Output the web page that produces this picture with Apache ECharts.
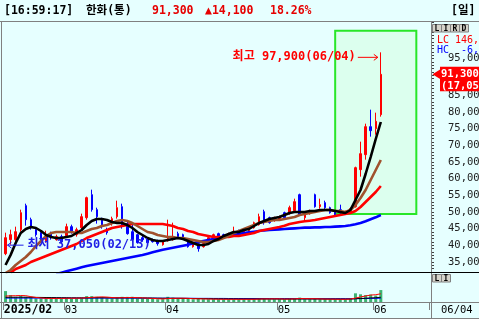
<!DOCTYPE html>
<html>
<head>
<meta charset="utf-8">
<script src="https://cdn.jsdelivr.net/npm/echarts@6.0.0/dist/echarts.min.js"></script>
<style>
html,body{margin:0;padding:0;background:#e6ffff;overflow:hidden;}
#chart{width:479px;height:319px;}
</style>
</head>
<body>
<div id="chart"></div>
<script>
const dates = ['02/13','02/14','02/17','02/18','02/19','02/20','02/21','02/24','02/25','02/26','02/27','02/28',
'03/04','03/05','03/06','03/07','03/10','03/11','03/12','03/13','03/14','03/17','03/18','03/19','03/20','03/21','03/24','03/25','03/26','03/27','03/28','03/31',
'04/01','04/02','04/03','04/04','04/07','04/08','04/09','04/10','04/11','04/14','04/15','04/16','04/17','04/18','04/21','04/22','04/23','04/24','04/25','04/28','04/29','04/30',
'05/02','05/07','05/08','05/09','05/12','05/13','05/14','05/15','05/16','05/19','05/20','05/21','05/22','05/23','05/26','05/27','05/28','05/29','05/30',
'06/02','06/04'];
const opens = [37500,41700,41700,44700,51900,47700,44700,43800,41100,43500,41700,42600,42900,45600,43200,45300,48300,55200,50700,47700,44700,46500,48600,51600,46500,44100,43200,42300,42000,41700,41400,40200,41400,41700,43500,43200,41100,39600,40500,39600,41400,42300,43500,43200,42600,43200,44400,43800,44400,45300,46200,50100,48300,47400,48000,49800,49500,50400,55200,48300,49500,55200,51600,52800,51300,50100,50700,49500,49800,51600,62700,67200,75600,75000,79200];
const highs = [43800,44700,45600,50700,52500,48300,45300,44400,44400,44100,43200,43200,46500,46200,45300,49500,54600,56700,51300,48300,45300,48600,53400,52500,47100,46200,43500,42900,42300,42000,41700,41400,47700,46800,44100,43500,41400,41100,40800,40800,42600,43500,43800,43500,43800,45600,44700,45000,45600,47100,49500,50700,48600,48600,48900,50100,51900,54000,55500,49800,50700,55500,54000,53400,51600,50400,52200,50400,51300,63600,71100,76500,80700,79800,97900];
const lows = [37050,40200,41000,44100,45900,44700,42600,41100,40800,41700,41400,40500,42300,43500,42600,44700,47700,50100,46500,45000,43200,45900,48000,45000,43200,41100,40500,41100,40200,40800,39900,39900,41100,41400,42300,41700,39300,39300,38100,39300,41100,42000,42300,42000,42300,42900,42900,43500,44100,45000,45900,46200,46500,47100,47700,48000,49200,50100,48900,47400,49200,51300,51000,50700,49500,48900,49500,49200,49500,51300,60600,65700,72600,73200,78600];
const closes = [42300,43200,44100,49800,47700,45300,43200,41700,43200,42300,42600,41100,45600,44100,44700,48600,54300,50700,48600,45600,43800,48000,51300,45900,43500,41700,40800,41700,40800,41100,40500,41100,42000,42300,42600,42300,39600,40800,39000,40500,42300,43200,42600,42300,43500,43800,43200,44700,45300,46800,48600,47400,46800,48300,48600,48300,51300,53100,49200,49200,50400,51600,52200,51300,49800,49200,49800,50100,51000,63300,67500,75600,74400,77200,91300];
const ma5 = [34100,37100,40700,43700,44900,45500,45200,44300,43100,42500,42200,42200,42500,42800,43700,44600,46100,47300,47900,47900,47600,47000,46700,46700,46100,45200,44000,43100,42200,41600,41300,41300,41600,41900,42200,41900,41300,40700,40100,40100,40400,41300,41900,42800,43400,44000,44000,44600,44900,45800,46700,47300,47900,48200,48500,49100,49700,50000,50000,50000,50300,50300,50600,50600,50600,50300,50000,49700,50600,53600,56600,61400,66500,71900,77000];
const ma10 = [31700,32600,34100,35300,36500,38000,39800,41300,42800,43700,44000,44000,44000,44000,43700,43700,44300,44900,45200,45800,46100,46700,47300,47600,47300,46700,45800,44900,44000,43700,43100,42800,42500,42500,42200,42200,41900,41600,41300,41000,41000,41300,41600,42200,42800,43700,44300,44900,45500,46100,46700,47000,47300,47600,47600,47900,48200,48500,49100,49400,49700,50000,50300,50600,50600,50300,50300,50000,50600,52100,54200,56600,59600,62600,65600];
const ma20 = [null,31800,32900,33500,34100,35000,35600,36200,36800,37400,38000,38600,39200,39800,40400,41300,42200,42800,43400,44000,44600,45200,45500,45800,46100,46400,46400,46400,46400,46400,46400,46400,46100,45800,45200,44900,44300,44000,43400,43100,42800,42500,42500,42500,42500,42800,42800,43100,43400,43700,44300,44600,44900,45200,45500,45900,46400,46700,47000,47200,47400,47600,47900,48200,48500,48800,49100,49400,49700,50300,51500,53000,54500,56000,57800];
const ma60 = [null,null,null,null,null,null,null,null,null,null,31400,31800,32200,32600,33000,33400,33800,34100,34400,34700,35000,35300,35600,35900,36200,36500,36800,37100,37500,37900,38300,38700,39000,39300,39600,39900,40200,40600,41000,41300,41600,41900,42200,42500,42800,43100,43400,43700,43900,44100,44300,44500,44600,44700,44800,44900,45000,45100,45200,45300,45300,45400,45400,45500,45500,45600,45700,45800,46000,46300,46700,47200,47800,48400,49100];
const volumes = [15600,9900,7400,8500,7400,6300,5200,5100,5000,5200,5000,5100,6300,5000,5100,6300,8500,8400,7400,6200,5200,5000,6300,7400,7300,7400,5000,5100,4900,5000,3900,4000,7400,6200,5000,5100,5000,3900,5100,4000,3900,4000,3900,3900,4000,3900,4000,3900,3900,4000,5000,5100,3900,4000,3900,4000,5100,5000,6300,3900,4000,5100,3900,4000,3900,3900,4000,3900,5100,12400,11000,9900,10600,9200,17058];
const volMaShort = [8500,8800,9000,9200,9000,7600,6500,5700,5200,5100,5100,5100,5300,5300,5400,5600,6100,6600,7000,7300,7000,6400,6000,6100,6300,6500,6200,5900,5500,5100,4700,4400,4900,5200,5300,5400,5200,4700,4600,4400,4300,4100,4000,3900,3900,3900,3900,3900,3900,3900,4200,4400,4400,4500,4500,4100,4300,4500,4900,4800,4700,4700,4400,4200,4100,4000,3900,3900,4200,5600,7200,8600,9900,10400,11700];
const volMaMid = [6700,6700,6800,6800,6800,6700,6600,6500,6400,6300,6200,6100,6000,5900,5900,5800,5900,6000,6100,6100,6000,5900,5900,6000,6000,6000,5900,5800,5700,5600,5500,5400,5400,5300,5300,5200,5100,5000,4900,4800,4700,4600,4500,4500,4400,4400,4300,4300,4300,4300,4300,4300,4300,4300,4200,4200,4200,4200,4300,4300,4300,4300,4300,4200,4200,4200,4200,4200,4200,4600,5000,5400,5800,6100,6800];
const volMaLong = [5600,5600,5600,5600,5600,5600,5600,5600,5600,5600,5600,5600,5600,5600,5600,5600,5600,5600,5600,5600,5600,5600,5600,5600,5600,5600,5500,5500,5500,5500,5400,5400,5400,5400,5300,5300,5300,5300,5200,5200,5200,5100,5100,5100,5000,5000,5000,5000,4900,4900,4900,4900,4800,4800,4800,4800,4800,4800,4800,4700,4700,4700,4700,4700,4700,4700,4700,4700,4700,4800,4900,5000,5100,5200,5400];
const xTickLabels = ['2025/02','03','04','05','06'];
const yLabelMin = 35000, yLabelMax = 95000, yLabelStep = 5000;
const header = {time:'[16:59:17]', name:'한화(통)', price:'91,300', change:'▲14,100', rate:'18.26%', period:'[일]'};
const boxRange = {fromIdx:65, toIdx:81, low:49400, high:104400};
const sideTexts = {lc:'LC 146,', hc:'HC  -6,', sub:'(17,05', lastDate:'06/04'};

const MONO = '"DejaVu Sans Mono","Noto Sans CJK KR",monospace';
const padCount = 9;
const cats = dates.concat(Array.from({length:padCount}, (_, k) => '+' + (k + 1)));
const monthIdx = [];
dates.forEach((d, i) => { if (i === 0 || d.slice(0, 2) !== dates[i - 1].slice(0, 2)) monthIdx.push(i); });
const fmt = v => String(v).replace(/\B(?=(\d{3})+(?!\d))/g, ',');

const chart = echarts.init(document.getElementById('chart'), null, {width:479, height:319});
const option = {
  animation: false,
  backgroundColor: '#e6ffff',
  grid: [
    {left:3, top:22, width:426, height:250, containLabel:false, outerBoundsMode:'none'},
    {left:3, top:274, width:426, height:28, containLabel:false, outerBoundsMode:'none'}
  ],
  xAxis: [
    {type:'category', gridIndex:0, data:cats, boundaryGap:true, axisLine:{show:false}, axisTick:{show:false}, axisLabel:{show:false}, splitLine:{show:false}},
    {type:'category', gridIndex:1, data:cats, boundaryGap:true, axisLine:{show:false},
     axisTick:{show:true, length:8, interval:(i) => monthIdx.indexOf(i) >= 0, lineStyle:{color:'#808080', width:1}},
     axisLabel:{show:false}, splitLine:{show:false}}
  ],
  yAxis: [
    {type:'value', gridIndex:0, position:'right', offset:2, min:32000, max:107000, interval:1000,
     splitLine:{show:false}, axisLine:{show:false},
     axisTick:{show:true, length:3, lineStyle:{color:'#404040', width:1}},
     axisLabel:{show:true, margin:17, color:'#202020', fontFamily:MONO, fontSize:10.5,
       formatter:(v) => {
         if (v % yLabelStep !== 0 || v < yLabelMin || v > yLabelMax) return '';
         return v === yLabelMax ? '{u|' + fmt(v) + '}' : fmt(v);
       },
       rich:{u:{padding:[0,0,7,0], color:'#202020', fontFamily:MONO, fontSize:10.5}}}},
    {type:'value', gridIndex:1, min:0, max:40000, show:false, splitLine:{show:false}}
  ],
  series: [
    {type:'candlestick', xAxisIndex:0, yAxisIndex:0, z:2,
     data: dates.map((d, i) => [opens[i], closes[i], lows[i], highs[i]]),
     barWidth:2,
     itemStyle:{color:'#ff0000', color0:'#0000ff', borderColor:'#ff0000', borderColor0:'#0000ff', borderWidth:1},
     markArea:{silent:true, z:1,
       itemStyle:{color:'rgba(200,255,200,0.3)', borderColor:'#28e628', borderWidth:2},
       data:[[{xAxis:cats[boxRange.fromIdx], yAxis:boxRange.low}, {xAxis:cats[boxRange.toIdx], yAxis:boxRange.high}]]}},
    {type:'line', xAxisIndex:0, yAxisIndex:0, data:ma60, symbol:'none', silent:true, z:3, lineStyle:{color:'#0000ff', width:2.6}},
    {type:'line', xAxisIndex:0, yAxisIndex:0, data:ma20, symbol:'none', silent:true, z:3, lineStyle:{color:'#ff0000', width:2.6}},
    {type:'line', xAxisIndex:0, yAxisIndex:0, data:ma10, symbol:'none', silent:true, z:3, lineStyle:{color:'#a0522d', width:2.6}},
    {type:'line', xAxisIndex:0, yAxisIndex:0, data:ma5, symbol:'none', silent:true, z:3, lineStyle:{color:'#000000', width:2.6}},
    {type:'bar', xAxisIndex:1, yAxisIndex:1, data:volumes, barWidth:3, silent:true, z:2, itemStyle:{color:'#3cb371'}},
    {type:'line', xAxisIndex:1, yAxisIndex:1, data:volMaLong, symbol:'none', silent:true, z:3, lineStyle:{color:'#0000ff', width:1}},
    {type:'line', xAxisIndex:1, yAxisIndex:1, data:volMaMid, symbol:'none', silent:true, z:3, lineStyle:{color:'#000000', width:1}},
    {type:'line', xAxisIndex:1, yAxisIndex:1, data:volMaShort, symbol:'none', silent:true, z:3, lineStyle:{color:'#ff0000', width:1}}
  ]
};
chart.setOption(option);

const P = (cat, v) => chart.convertToPixel({gridIndex:0}, [cat, v]);
const PV = (cat, v) => chart.convertToPixel({gridIndex:1}, [cat, v]);
const els = [];
const ln = (x1, y1, x2, y2, color, w) => ({type:'line', silent:true, z:20, shape:{x1, y1, x2, y2}, style:{stroke:color, lineWidth:w || 1}});
const tx = (x, y, t, fill, font, align) => ({type:'text', silent:true, z:21, x, y, style:{text:t, fill, font, align:align || 'left', verticalAlign:'middle'}});

// frame lines
els.push(ln(0, 21.5, 479, 21.5, '#808080', 1));
els.push(ln(1.5, 22, 1.5, 319, '#808080', 1));
els.push(ln(431.5, 22, 431.5, 319, '#808080', 1));
els.push(ln(0, 272.5, 479, 272.5, '#000000', 1));
els.push(ln(0, 302.5, 479, 302.5, '#808080', 1));
els.push(ln(0, 318.5, 479, 318.5, '#808080', 1));

// header
const HF = 'bold 11.5px ' + MONO;
els.push(tx(4, 11, header.time, '#000000', HF));
els.push(tx(86, 11, header.name, '#000000', HF));
els.push(tx(152, 11, header.price, '#e60000', HF));
els.push(tx(205, 11, header.change, '#e60000', HF));
els.push(tx(270, 11, header.rate, '#e60000', HF));
els.push(tx(451, 11, header.period, '#000000', HF));

// L I R D boxes
['L','I','R','D'].forEach((c, k) => {
  els.push({type:'rect', silent:true, z:20, shape:{x:432.5 + k * 9, y:24.5, width:9, height:7.5}, style:{fill:'#d6d3ca', stroke:'#808080', lineWidth:1}});
  els.push(tx(437 + k * 9, 28.5, c, '#000', 'bold 8px ' + MONO, 'center'));
});
['L','I'].forEach((c, k) => {
  els.push({type:'rect', silent:true, z:20, shape:{x:432.5 + k * 9, y:274.5, width:9, height:7.5}, style:{fill:'#d6d3ca', stroke:'#808080', lineWidth:1}});
  els.push(tx(437 + k * 9, 278.5, c, '#000', 'bold 8px ' + MONO, 'center'));
});

// LC / HC
els.push(tx(437, 40, sideTexts.lc, '#ff0000', '10px ' + MONO));
els.push(tx(437, 50, sideTexts.hc, '#0000ff', '10px ' + MONO));

// price box for last close
const last = dates.length - 1;
const yc = P(dates[last], closes[last])[1];
els.push({type:'polygon', silent:true, z:22, shape:{points:[[432.5, yc], [440.5, yc - 5], [440.5, yc + 5]]}, style:{fill:'#ff0000'}});
els.push({type:'rect', silent:true, z:22, shape:{x:440, y:yc - 7.5, width:40, height:24.5}, style:{fill:'#ff0000'}});
els.push(Object.assign(tx(441, yc, fmt(closes[last]), '#ffffff', 'bold 10.5px ' + MONO), {z:23}));
els.push(Object.assign(tx(441, yc + 11.5, sideTexts.sub, '#ffffff', 'bold 10.5px ' + MONO), {z:23}));

// date labels
const band = P(cats[1], 50000)[0] - P(cats[0], 50000)[0];
monthIdx.forEach((idx, k) => {
  const x = PV(cats[idx], 0)[0] - band / 2 + 0.8;
  els.push(tx(x, 310.5, xTickLabels[k], '#000000', (k === 0 ? 'bold 11.5px ' : '10.5px ') + MONO));
});
els.push(tx(441, 310.5, sideTexts.lastDate, '#000000', '10.5px ' + MONO));

// high / low annotations
let hiIdx = 0; highs.forEach((h, i) => { if (h > highs[hiIdx]) hiIdx = i; });
let loIdx = 0; lows.forEach((l, i) => { if (l < lows[loIdx]) loIdx = i; });
const hp = P(dates[hiIdx], highs[hiIdx]);
const hy = hp[1] + 5;
els.push(ln(hp[0] - 23, hy, hp[0] - 3, hy, '#ff0000', 1));
els.push({type:'polyline', silent:true, z:20, shape:{points:[[hp[0] - 7, hy - 3], [hp[0] - 3, hy], [hp[0] - 7, hy + 3]]}, style:{stroke:'#ff0000', lineWidth:1, fill:null}});
els.push(tx(hp[0] - 25, hy, '최고 ' + fmt(highs[hiIdx]) + '(' + dates[hiIdx] + ')', '#ff0000', 'bold 12px ' + MONO, 'right'));

const lp = P(dates[loIdx], lows[loIdx]);
const ly = lp[1] - 10;
els.push(ln(lp[0] + 2, ly, lp[0] + 18, ly, '#1e1ee6', 1));
els.push({type:'polyline', silent:true, z:20, shape:{points:[[lp[0] + 6, ly - 3], [lp[0] + 2, ly], [lp[0] + 6, ly + 3]]}, style:{stroke:'#1e1ee6', lineWidth:1, fill:null}});
els.push(tx(lp[0] + 22, ly, '최저 ' + fmt(lows[loIdx]) + '(' + dates[loIdx] + ')', '#1e1ee6', 'bold 12px ' + MONO));

chart.setOption({graphic:{elements:els}});
</script>
</body>
</html>
